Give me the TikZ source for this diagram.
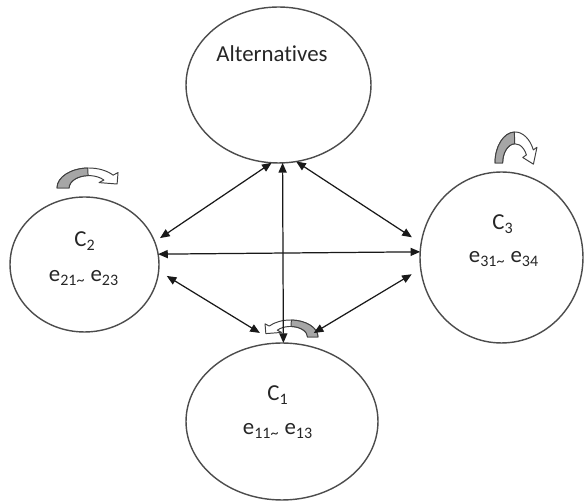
\documentclass[tikz,border=0pt]{standalone}
\usepackage{fontspec}
\setmainfont{Carlito}[Ligatures=NoCommon]
\usetikzlibrary{shapes.geometric,arrows.meta}
\begin{document}
\begin{tikzpicture}[x=0.02cm,y=-0.02cm,
  bubble/.style={ellipse,draw=black!70,line width=0.8pt,inner sep=0pt,outer sep=0pt},
  txt/.style={font=\fontsize{13}{15}\selectfont,text=black!85,inner sep=0pt,anchor=base},
  rel/.style={{Triangle[length=5.5pt,width=4.6pt]}-{Triangle[length=5.5pt,width=4.6pt]},line width=0.7pt,draw=black!90},
  % an arched band: gray foot on the left, hollow head on the right
  pics/bentarrow/.style={code={
    \filldraw[fill=white,draw=black!75,line width=0.55pt,line join=round]
      (180:1) arc[start angle=180,end angle=#1,radius=1]
      -- (#1:1.2) -- ([shift={(#1-90:0.42)}]#1:0.81) -- (#1:0.42) -- (#1:0.62)
      arc[start angle=#1,end angle=180,radius=0.62] -- cycle;
    \filldraw[fill=black!35,draw=black!75,line width=0.55pt,line join=round]
      (180:1) arc[start angle=180,end angle=92,radius=1]
      -- (92:0.62) arc[start angle=92,end angle=180,radius=0.62] -- cycle;
  }}
]
\useasboundingbox (0,0) rectangle (585,502);

% the four groups
\node[bubble,minimum width=3.70cm,minimum height=3.12cm] (alt) at (278.5,85) {};
\node[bubble,minimum width=2.98cm,minimum height=2.70cm] (c2) at (84.5,264.5) {};
\node[bubble,minimum width=3.26cm,minimum height=3.42cm] (c3) at (501.5,257.5) {};
\node[bubble,minimum width=3.84cm,minimum height=3.14cm] (c1) at (282,421.5) {};

% labels
\node[txt] (altname) at (272,62) {Alternatives};
\node[txt] (c2name) at (85,247) {C\textsubscript{2}};
\node[txt] (c2range) at (84,282) {e\textsubscript{21\textasciitilde} e\textsubscript{23}};
\node[txt] (c3name) at (503,230) {C\textsubscript{3}};
\node[txt] (c3range) at (504,263) {e\textsubscript{31\textasciitilde} e\textsubscript{34}};
\node[txt] (c1name) at (278,401) {C\textsubscript{1}};
\node[txt] (c1range) at (278,435) {e\textsubscript{11\textasciitilde} e\textsubscript{13}};

% self-feedback arches
\pic[xscale=31.8,yscale=-20] at (88.8,188) {bentarrow=40};
\pic[xscale=20.1,yscale=-31] at (515.1,163) {bentarrow=25};
\pic[xscale=-27.6,yscale=-17] at (290.4,337) {bentarrow=40};

% mutual links
\draw[rel,shorten <=0.13cm] (c2.18.1) -- (alt.265.2);
\draw[rel,shorten >=0.22cm] (alt.283.6) -- (c3.170.5);
\draw[rel] (alt.273.3) -- (c1.89.3);
\draw[rel] (c2.8.1) -- (c3.176.8);
\draw[rel,shorten <=0.19cm,shorten >=0.39cm] (c2.355.8) -- (c1.94.3);
\draw[rel,shorten <=0.21cm,shorten >=0.42cm] (c3.188.6) -- (c1.80.8);
\end{tikzpicture}
\end{document}
